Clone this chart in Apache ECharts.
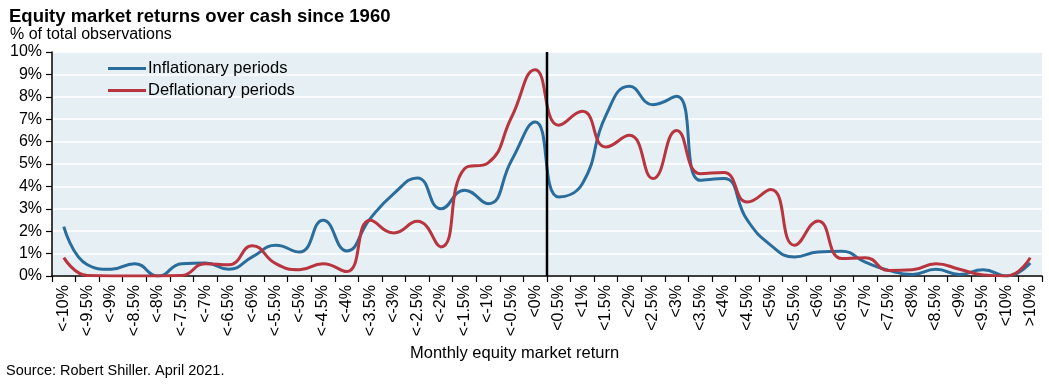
<!DOCTYPE html>
<html>
<head>
<meta charset="utf-8">
<script src="https://cdn.jsdelivr.net/npm/echarts@6/dist/echarts.min.js"></script>
<style>
html,body{margin:0;padding:0;background:#fff;}
#c{width:1049px;height:387px;}
</style>
</head>
<body>
<div id="c"></div>
<script>
const categories = ['<-10%','<-9.5%','<-9%','<-8.5%','<-8%','<-7.5%','<-7%','<-6.5%','<-6%','<-5.5%','<-5%','<-4.5%','<-4%','<-3.5%','<-3%','<-2.5%','<-2%','<-1.5%','<-1%','<-0.5%','<0%','<0.5%','<1%','<1.5%','<2%','<2.5%','<3%','<3.5%','<4%','<4.5%','<5%','<5.5%','<6%','<6.5%','<7%','<7.5%','<8%','<8.5%','<9%','<9.5%','<10%','>10%'];
const inflationary = [2.2,0.5,0.3,0.55,0.0,0.55,0.58,0.3,0.85,1.37,1.07,2.49,1.12,2.56,3.68,4.38,3.0,3.83,3.23,5.17,6.88,3.53,4.12,7.17,8.47,7.65,8.02,4.27,4.35,2.49,1.37,0.85,1.07,1.1,0.62,0.25,0.07,0.3,0.07,0.28,0.0,0.58];
const deflationary = [0.82,0.02,0.0,0.0,0.0,0.02,0.55,0.5,1.35,0.55,0.28,0.55,0.2,2.49,1.92,2.44,1.3,4.79,5.05,7.1,9.21,6.73,7.35,5.76,6.28,4.35,6.5,4.57,4.62,3.3,3.86,1.37,2.46,0.78,0.82,0.25,0.28,0.55,0.3,0.05,0.0,0.82];
const yTicks = [0,1,2,3,4,5,6,7,8,9,10];
const zeroBoundary = 21; // boundary between "<0%" and "<0.5%" on a 0..42 scale

const chart = echarts.init(document.getElementById('c'), null, {renderer:'canvas'});
const font = '"Liberation Sans", Arial, sans-serif';
chart.setOption({
  animation:false,
  textStyle:{fontFamily:font},
  title:[
    {text:'Equity market returns over cash since 1960', left:4, top:2, textStyle:{fontFamily:font,fontSize:18.5,fontWeight:'bold',color:'#000'}},
    {text:'% of total observations', left:5, top:22, textStyle:{fontFamily:font,fontSize:16,fontWeight:'normal',color:'#000'}},
    {text:'Monthly equity market return', left:405, top:340, textStyle:{fontFamily:font,fontSize:16.5,fontWeight:'normal',color:'#000'}},
    {text:'Source: Robert Shiller. April 2021.', left:1, top:358, textStyle:{fontFamily:font,fontSize:14.5,fontWeight:'normal',color:'#000'}}
  ],
  legend:{
    data:['Inflationary periods','Deflationary periods'],
    orient:'vertical', left:103, top:55,
    icon:'rect', itemWidth:38, itemHeight:3, itemGap:5,
    textStyle:{fontFamily:font,fontSize:16.5,color:'#000',padding:[0,0,0,-3]}
  },
  grid:{left:52,right:7,top:52,bottom:111,show:true,backgroundColor:'#e6eff3',borderWidth:0},
  xAxis:[
    {type:'category', data:categories, boundaryGap:true,
     axisLine:{lineStyle:{color:'#000',width:1.5}},
     axisTick:{show:true,length:6,lineStyle:{color:'#000',width:1.2}},
     axisLabel:{rotate:90,fontSize:16,color:'#000',fontFamily:font,margin:9,interval:0},
     splitLine:{show:false}},
    {type:'value', min:0, max:categories.length, show:false, position:'bottom'}
  ],
  yAxis:{type:'value', min:0, max:10, interval:1,
     axisLine:{show:true,lineStyle:{color:'#000',width:1.5}},
     axisTick:{show:true,length:6,inside:false,lineStyle:{color:'#000',width:1.2}},
     axisLabel:{formatter:'{value}%',fontSize:16,color:'#000',fontFamily:font,margin:10},
     splitLine:{show:true,lineStyle:{color:'#ffffff',width:1.5}}},
  series:[
    {name:'Inflationary periods', type:'line', data:inflationary, smooth:0.5, showSymbol:false, symbol:'none',
     lineStyle:{color:'#2a6c9c',width:3}, itemStyle:{color:'#2a6c9c'}, z:3},
    {name:'Deflationary periods', type:'line', data:deflationary, smooth:0.5, showSymbol:false, symbol:'none',
     lineStyle:{color:'#b8343f',width:3}, itemStyle:{color:'#b8343f'}, z:3},
    {name:'zero', type:'line', xAxisIndex:1, data:[[zeroBoundary,yTicks[0]],[zeroBoundary,yTicks[yTicks.length-1]]],
     showSymbol:false, symbol:'none', lineStyle:{color:'#000',width:2.5}, z:4, silent:true}
  ]
});
</script>
</body>
</html>
